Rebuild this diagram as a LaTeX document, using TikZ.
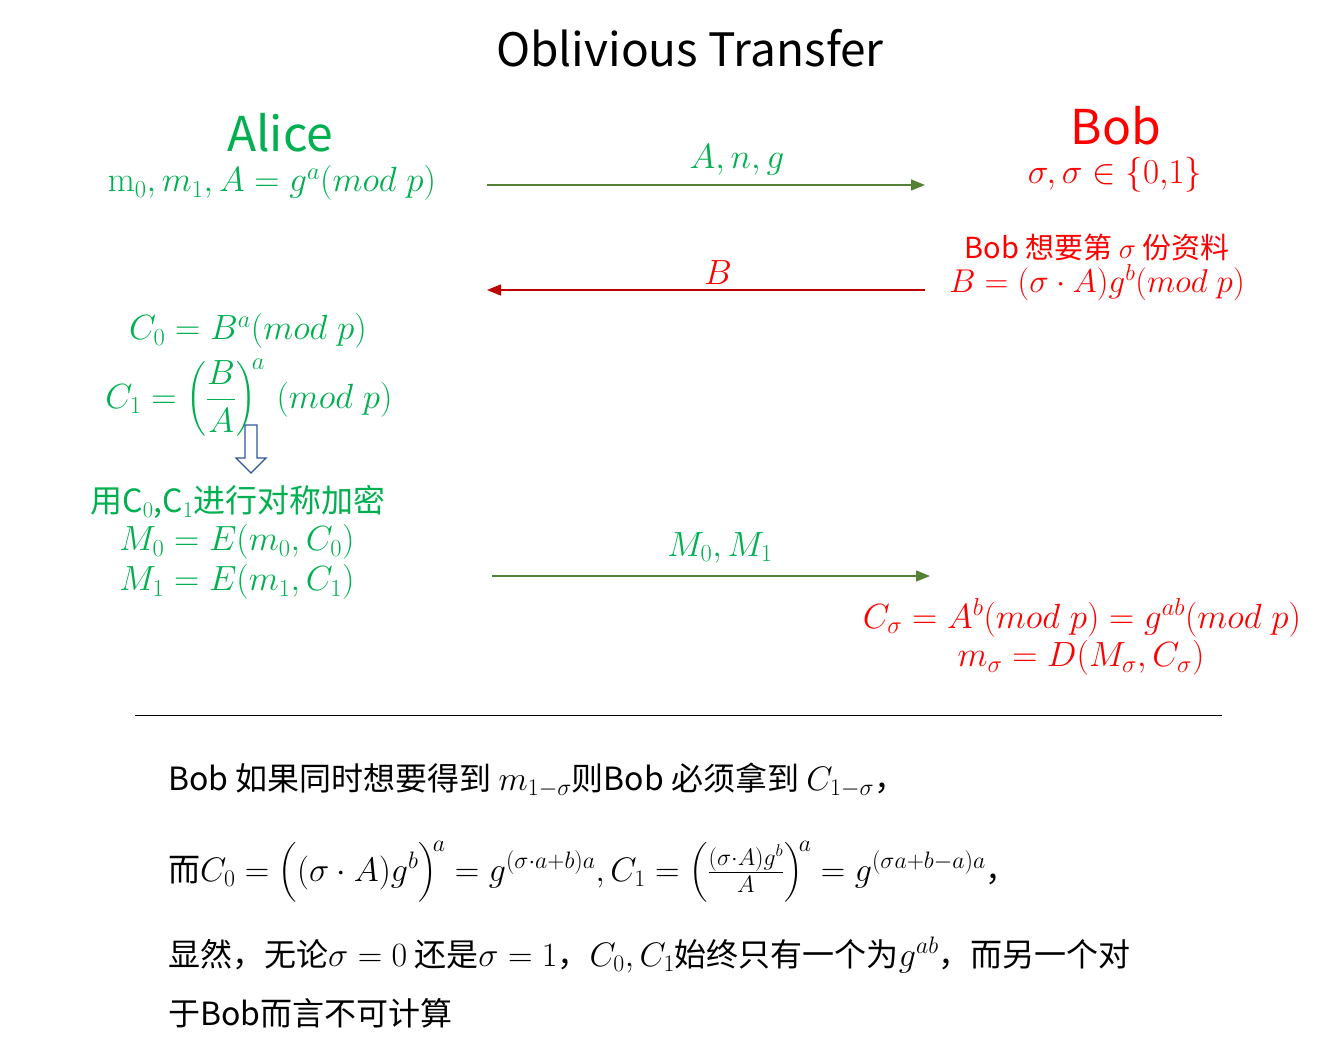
\RequirePackage{fix-cm}
\documentclass[tikz,border=0pt]{standalone}
\usepackage{amsmath}
\usepackage[no-math]{fontspec}
\setmainfont{Noto Sans CJK SC}
\usepackage{xcolor}
\usepackage{tikz}
\usetikzlibrary{arrows.meta,positioning}
\definecolor{alicegreen}{HTML}{00B050}
\definecolor{bobred}{HTML}{FF0000}
\definecolor{msggreen}{HTML}{538135}
\definecolor{msgred}{HTML}{C00000}
\definecolor{hintblue}{HTML}{2F5597}
\newcommand{\nmath}[1]{{\fontsize{34}{40}\selectfont$#1$}}

\begin{document}
\begin{tikzpicture}[
  x=1pt, y=-1pt,
  >={Triangle[length=14pt,width=11pt]},
  title/.style={font=\fontsize{46}{56}\selectfont, inner sep=0pt},
  party/.style={font=\fontsize{48}{56}\selectfont, inner sep=0pt},
  eq/.style={font=\fontsize{35}{42}\selectfont, inner sep=0pt},
  cjk/.style={font=\fontsize{29}{34}\selectfont, inner sep=0pt},
  note/.style={font=\fontsize{32}{38}\selectfont, inner sep=0pt, anchor=west},
  msg/.style={->, line width=1.3pt}
]
  \useasboundingbox (0,0) rectangle (1338,1053);
  \node[title] (title) at (690,48) {Oblivious Transfer};
  % Alice side
  \node[party, alicegreen] (alice) at (280,133) {Alice};
  \node[eq, alicegreen] (alicekey) at (272,183) {$\mathrm{m}_0, m_1, A = g^a(mod\;p)$};
  \node[eq, alicegreen] (czero) at (248,331) {$C_0 = B^a(mod\;p)$};
  \node[eq, alicegreen] (cone) at (249,398) {$C_1 = \left(\dfrac{B}{A}\right)^{\!a}\,(mod\;p)$};
  \node[cjk, font=\fontsize{32}{38}\selectfont, alicegreen] (encrypt) at (238,502) {用C$_0$,C$_1$进行对称加密};
  \node[eq, alicegreen] (mzero) at (237,542) {$M_0 = E(m_0, C_0)$};
  \node[eq, alicegreen] (mone) at (237,582) {$M_1 = E(m_1, C_1)$};
  % Bob side
  \node[party, bobred] (bob) at (1116,126) {Bob};
  \node[eq, bobred] (bobchoice) at (1115,175) {$\sigma, \sigma \in \{0{,}1\}$};
  \node[cjk, bobred] (bobwant) at (1097,247) {Bob 想要第 $\sigma$ 份资料};
  \node[eq, bobred, font=\fontsize{33}{40}\selectfont] (bobkey) at (1097,283) {$B = (\sigma\cdot A)g^b(mod\;p)$};
  \node[eq, bobred] (csigma) at (1082,618) {$C_\sigma = A^b(mod\;p) = g^{ab}(mod\;p)$};
  \node[eq, bobred] (msigma) at (1081,658) {$m_\sigma = D(M_\sigma, C_\sigma)$};
  % messages
  \coordinate (ag) at (487,185);
  \coordinate (bg) at (925,185);
  \coordinate (ab) at (487,290);
  \coordinate (bb) at (925,290);
  \coordinate (am) at (492,576);
  \coordinate (bm) at (930,576);
  \draw[msg, msggreen] (ag) -- (bg);
  \draw[msg, msgred] (bb) -- (ab);
  \draw[msg, msggreen] (am) -- (bm);
  \node[eq, alicegreen] (lblang) at (737,160) {$A, n, g$};
  \node[eq, bobred] (lblb) at (718,273) {$B$};
  \node[eq, alicegreen] (lblm) at (720,548) {$M_0, M_1$};
  % hollow arrow down
  \draw[hintblue, fill=white, line width=1.2pt]
    (245,425) -- (257,425) -- (257,458) -- (266,458) -- (251,473)
    -- (236,458) -- (245,458) -- cycle;
  % rule and remarks
  \coordinate (rl) at (135,715);
  \coordinate (rr) at (1222,715);
  \draw[line width=0.8pt] (rl) -- (rr);
  \node[note] (remarkA) at (168,780) {Bob 如果同时想要得到 \nmath{m_{1-\sigma}}则Bob 必须拿到 \nmath{C_{1-\sigma}}，};
  \node[note] (remarkB) at (168,872) {而\nmath{C_0 = \Bigl((\sigma\cdot A)g^b\Bigr)^{\!a} = g^{(\sigma\cdot a+b)a}, C_1 = \left(\frac{(\sigma\cdot A)g^b}{A}\right)^{\!a} = g^{(\sigma a+b-a)a}}，};
  \node[note] (remarkC) at (168,955) {显然，无论\nmath{\sigma = 0} 还是\nmath{\sigma = 1}，\nmath{C_0,C_1}始终只有一个为\nmath{g^{ab}}，而另一个对};
  \node[note] (remarkD) at (168,1013) {于Bob而言不可计算};
\end{tikzpicture}
\end{document}
